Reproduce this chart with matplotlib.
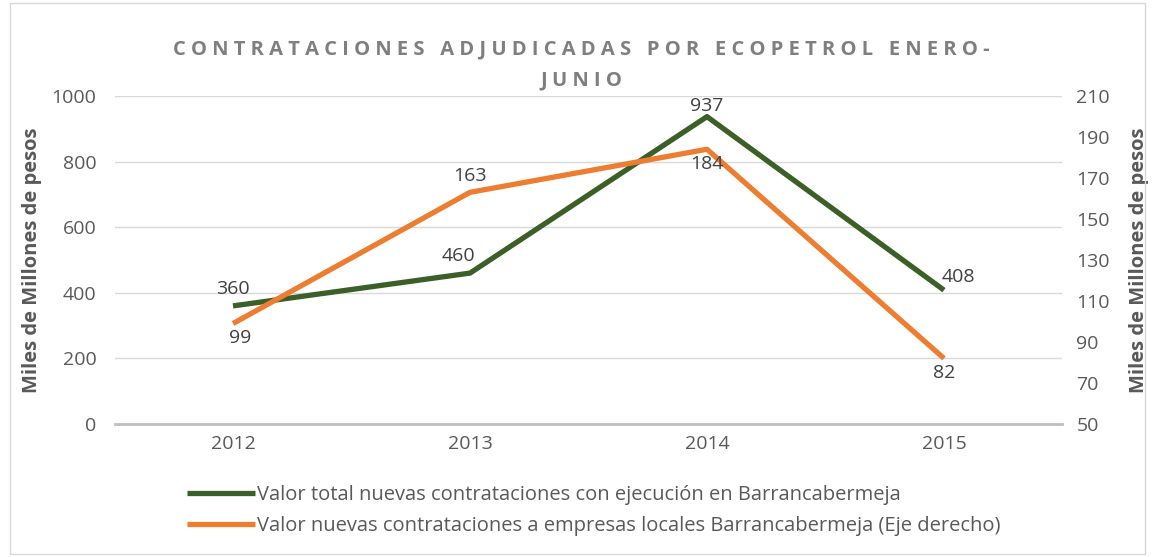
import matplotlib.pyplot as plt
from matplotlib.patches import Rectangle

plt.rcParams['font.family'] = ['Open Sans', 'DejaVu Sans']

# datos
anios = ['2012', '2013', '2014', '2015']
valor_total = [360, 460, 937, 408]
valor_locales = [99, 163, 184, 82]

verde = '#3A5F27'
naranja = '#ED7D31'
gris = '#595959'

fig = plt.figure(figsize=(11.52, 5.57), dpi=100)
fig.patches.append(Rectangle((0.009, 0.005), 0.985, 0.99, transform=fig.transFigure,
                             fill=False, edgecolor='#D9D9D9', linewidth=1))

ax = fig.add_axes([0.0994, 0.2388, 0.8229, 0.5889])
ax2 = ax.twinx()

x = list(range(len(anios)))
l1, = ax.plot(x, valor_total, color=verde, linewidth=3.8, solid_capstyle='butt',
              label='Valor total nuevas contrataciones con ejecución en Barrancabermeja')
l2, = ax2.plot(x, valor_locales, color=naranja, linewidth=3.8, solid_capstyle='butt',
               label='Valor nuevas contrataciones a empresas locales Barrancabermeja (Eje derecho)')

ax.set_xlim(-0.5, 3.5)
ax.set_ylim(0, 1000)
ax2.set_ylim(50, 210)
ax.set_yticks(range(0, 1001, 200))
ax2.set_yticks(range(50, 211, 20))
ax.set_xticks(x)
ax.set_xticklabels(anios)

ax.grid(axis='y', color='#D9D9D9', linewidth=1)
ax.set_axisbelow(True)
for a in (ax, ax2):
    for s in a.spines.values():
        s.set_visible(False)
    a.tick_params(length=0, labelsize=14, labelcolor=gris)
ax.spines['bottom'].set_visible(True)
ax.spines['bottom'].set_color('#BFBFBF')
ax.spines['bottom'].set_linewidth(2)
ax.tick_params(axis='y', pad=13)
ax.tick_params(axis='x', pad=8)
ax2.tick_params(axis='y', pad=10)

ax.set_ylabel('Miles de Millones de pesos', fontsize=14.5, fontweight='bold', color=gris, labelpad=7)
ax2.set_ylabel('Miles de Millones de pesos', fontsize=14.5, fontweight='bold', color=gris, labelpad=14)

# etiquetas de datos
off_total = [(0, 6, 'center', 'bottom'), (-8, 6, 'center', 'bottom'),
             (0, 1, 'center', 'bottom'), (10, 3, 'center', 'bottom')]
for xi, v, (dx, dy, ha, va) in zip(x, valor_total, off_total):
    ax.annotate(str(v), (xi, v), xytext=(dx, dy), textcoords='offset points',
                ha=ha, va=va, fontsize=14, color='#404040')
off_loc = [(5, -4, 'center', 'top'), (0, 5, 'center', 'bottom'),
           (0, -4, 'center', 'top'), (0, -4, 'center', 'top')]
for xi, v, (dx, dy, ha, va) in zip(x, valor_locales, off_loc):
    ax2.annotate(str(v), (xi, v), xytext=(dx, dy), textcoords='offset points',
                 ha=ha, va=va, fontsize=14, color='#404040')

titulo1 = ' '.join('CONTRATACIONES ADJUDICADAS POR ECOPETROL ENERO-')
titulo2 = ' '.join('JUNIO')
fig.text(0.505, 0.912, titulo1, ha='center', va='center', fontsize=14.5,
         fontweight='bold', color='#7F7F7F')
fig.text(0.505, 0.855, titulo2, ha='center', va='center', fontsize=14.5,
         fontweight='bold', color='#7F7F7F')

fig.legend(handles=[l1, l2], loc='upper left', bbox_to_anchor=(0.155, 0.143),
           frameon=False, fontsize=14.5, labelcolor=gris, handlelength=3.4,
           handletextpad=0.1, labelspacing=0.55, borderaxespad=0)

fig.savefig('out.png', dpi=100)
